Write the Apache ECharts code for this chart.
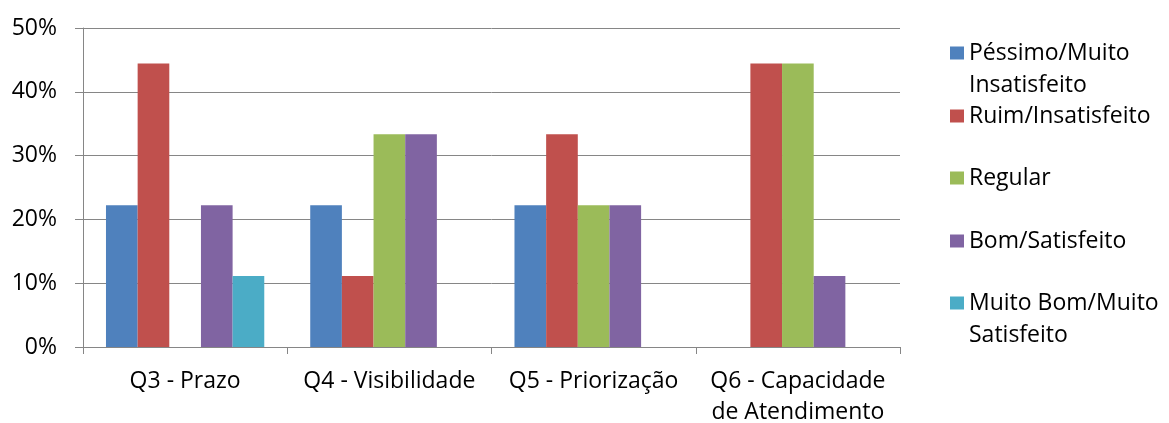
<!DOCTYPE html>
<html>
<head>
<meta charset="utf-8">
<script src="https://cdn.jsdelivr.net/npm/echarts@6/dist/echarts.min.js"></script>
<style>
html,body{margin:0;padding:0;background:#fff;}
#chart{width:1169px;height:423px;}
</style>
</head>
<body>
<div id="chart"></div>
<script>
const categories = ['Q3 - Prazo', 'Q4 - Visibilidade', 'Q5 - Priorização', 'Q6 - Capacidade\nde Atendimento'];
const seriesNames = ['Péssimo/Muito Insatisfeito', 'Ruim/Insatisfeito', 'Regular', 'Bom/Satisfeito', 'Muito Bom/Muito Satisfeito'];
const legendLabels = ['Péssimo/Muito\nInsatisfeito', 'Ruim/Insatisfeito', 'Regular', 'Bom/Satisfeito', 'Muito Bom/Muito\nSatisfeito'];
const pessimo = [0.2222, 0.2222, 0.2222, 0];
const ruim = [0.4444, 0.1111, 0.3333, 0.4444];
const regular = [0, 0.3333, 0.2222, 0.4444];
const bom = [0.2222, 0.3333, 0.2222, 0.1111];
const muitoBom = [0.1111, 0, 0, 0];
const yTicks = [0, 0.1, 0.2, 0.3, 0.4, 0.5];

const values = [pessimo, ruim, regular, bom, muitoBom];
const colors = ['#4F81BD', '#C0504D', '#9BBB59', '#8064A2', '#4BACC6'];
const FONT = 'Open Sans';
const FS = 23;
const LFS = 23;
const L = 32;

const legendCenters = [53, 116, 178, 241, 303];
const legends = seriesNames.map((n, i) => {
  const twoLine = legendLabels[i].indexOf('\n') >= 0;
  return {
    orient: 'vertical',
    left: 950,
    top: twoLine ? legendCenters[i] - 1.5 * L : legendCenters[i] - L / 2,
    padding: 0,
    itemWidth: 14,
    itemHeight: 13,
    icon: 'rect',
    selectedMode: false,
    data: [n],
    // a leading empty line keeps the first text line level with the icon
    formatter: () => (twoLine ? '\n' : '') + legendLabels[i],
    textStyle: {fontFamily: FONT, fontSize: LFS, color: '#000', lineHeight: L}
  };
});

const chart = echarts.init(document.getElementById('chart'), null, {renderer: 'canvas'});
chart.setOption({
  animation: false,
  backgroundColor: '#fff',
  textStyle: {fontFamily: FONT},
  grid: {left: 83, right: 269, top: 28, bottom: 76, containLabel: false, outerBoundsMode: 'none'},
  legend: legends,
  xAxis: {
    type: 'category',
    data: categories,
    axisLine: {lineStyle: {color: '#868686', width: 1}},
    axisTick: {show: true, length: 7, alignWithLabel: false, lineStyle: {color: '#868686'}},
    axisLabel: {fontFamily: FONT, fontSize: FS, color: '#000', margin: 19, lineHeight: 31, interval: 0}
  },
  yAxis: {
    type: 'value',
    min: yTicks[0],
    max: yTicks[yTicks.length - 1],
    interval: 0.1,
    axisLine: {show: true, lineStyle: {color: '#868686', width: 1}},
    axisTick: {show: true, length: 8, lineStyle: {color: '#868686'}},
    splitLine: {show: true, lineStyle: {color: '#868686', width: 1}},
    axisLabel: {fontFamily: FONT, fontSize: FS, color: '#000', margin: 26,
      formatter: v => Math.round(v * 100) + '%'}
  },
  series: seriesNames.map((n, i) => ({
    name: n,
    type: 'bar',
    data: values[i],
    barGap: '0%',
    barCategoryGap: '22.5%',
    itemStyle: {color: colors[i]}
  }))
});
</script>
</body>
</html>
